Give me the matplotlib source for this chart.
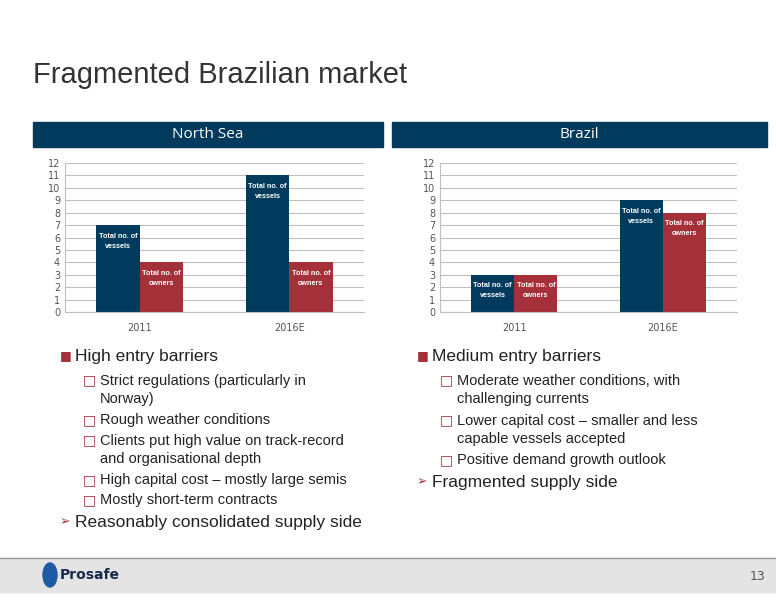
import matplotlib.pyplot as plt
from matplotlib.patches import Rectangle, Ellipse

categories = ['2011', '2016E']
north_sea_vessels = [7, 11]
north_sea_owners = [4, 4]
brazil_vessels = [3, 9]
brazil_owners = [3, 8]

left_bullets = [
    ('sq', 'High entry barriers'),
    ('sub', 'Strict regulations (particularly in\nNorway)'),
    ('sub', 'Rough weather conditions'),
    ('sub', 'Clients put high value on track-record\nand organisational depth'),
    ('sub', 'High capital cost \u2013 mostly large semis'),
    ('sub', 'Mostly short-term contracts'),
    ('arr', 'Reasonably consolidated supply side'),
]
right_bullets = [
    ('sq', 'Medium entry barriers'),
    ('sub', 'Moderate weather conditions, with\nchallenging currents'),
    ('sub', 'Lower capital cost \u2013 smaller and less\ncapable vessels accepted'),
    ('sub', 'Positive demand growth outlook'),
    ('arr', 'Fragmented supply side'),
]

W, H = 776, 600
BLUE = '#003a5d'
RED = '#a4303a'

fig = plt.figure(figsize=(W / 100, H / 100), dpi=100)


def fx(x):
    return x / W


def fy(y):
    return 1 - y / H


fig.text(fx(33), fy(75), 'Fragmented Brazilian market', fontsize=21, color='#333333',
         va='center', family='Liberation Sans')


def header(x0, x1, label):
    fig.patches.append(Rectangle((fx(x0), fy(147)), fx(x1 - x0), 25 / H,
                                 transform=fig.transFigure, color=BLUE))
    fig.text(fx((x0 + x1) / 2), fy(135), label, color='white', fontsize=11,
             ha='center', va='center', family='Open Sans')


def chart(x0, x1, vessels, owners):
    ax = fig.add_axes([fx(x0), fy(312), fx(x1 - x0), 149 / H])
    pos = [0, 1]
    w = 0.29
    bv = ax.bar([p - w / 2 for p in pos], vessels, w, color=BLUE)
    bo = ax.bar([p + w / 2 for p in pos], owners, w, color=RED)
    for bars, lab in ((bv, 'Total no. of\nvessels'), (bo, 'Total no. of\nowners')):
        for b in bars:
            ax.text(b.get_x() + b.get_width() / 2, b.get_height() - 0.6, lab,
                    ha='center', va='top', color='white', fontsize=5.2,
                    fontweight='bold', linespacing=1.6, family='Liberation Sans')
    ax.set_xlim(-0.5, 1.5)
    ax.set_ylim(0, 12)
    ax.set_yticks(range(13))
    ax.set_xticks(pos)
    ax.set_xticklabels(categories)
    ax.tick_params(axis='both', labelsize=7, colors='#555555', length=0)
    ax.tick_params(axis='x', pad=8)
    ax.grid(axis='y', color='#bfbfbf', linewidth=0.8)
    ax.set_axisbelow(True)
    for s in ['top', 'right']:
        ax.spines[s].set_visible(False)
    ax.spines['left'].set_color('#bfbfbf')
    ax.spines['bottom'].set_color('#bfbfbf')


header(33, 383, 'North Sea')
header(392, 767, 'Brazil')
chart(65, 364, north_sea_vessels, north_sea_owners)
chart(440, 737, brazil_vessels, brazil_owners)


def bullets(x, items):
    y = 356
    for kind, txt in items:
        nlines = txt.count('\n') + 1
        if kind == 'sub':
            yc = y + 10 * (nlines - 1)
            fig.text(fx(x + 23), fy(y), '\u25a1', color=RED, fontsize=10, va='center')
            fig.text(fx(x + 40), fy(yc), txt, fontsize=10.5, va='center', color='#222222',
                     family='Liberation Sans', linespacing=1.3)
            y += 20 * nlines
        else:
            sym = '\u25a0' if kind == 'sq' else '\u27a2'
            if kind == 'arr':
                y += 2
            fig.text(fx(x), fy(y), sym, color=RED, fontsize=9, va='center')
            fig.text(fx(x + 15), fy(y), txt, fontsize=12.5, va='center', color='#222222',
                     family='Liberation Sans')
            y += 24


bullets(60, left_bullets)
bullets(417, right_bullets)

# footer
fig.patches.append(Rectangle((0, fy(592)), 1, 34 / H, transform=fig.transFigure,
                             color='#e4e4e4'))
fig.lines.append(plt.Line2D([0, 1], [fy(558), fy(558)], transform=fig.transFigure,
                            color='#999999', linewidth=1))
fig.patches.append(Ellipse((fx(50), fy(575)), 14 / W, 24 / H, transform=fig.transFigure,
                           color='#1f5aa6'))
fig.text(fx(60), fy(575), 'Prosafe', fontsize=10, fontweight='bold', color='#1a2a4a',
         va='center')
fig.text(fx(765), fy(576), '13', fontsize=9, color='#555555', ha='right', va='center')

fig.savefig('out.png', dpi=100)
